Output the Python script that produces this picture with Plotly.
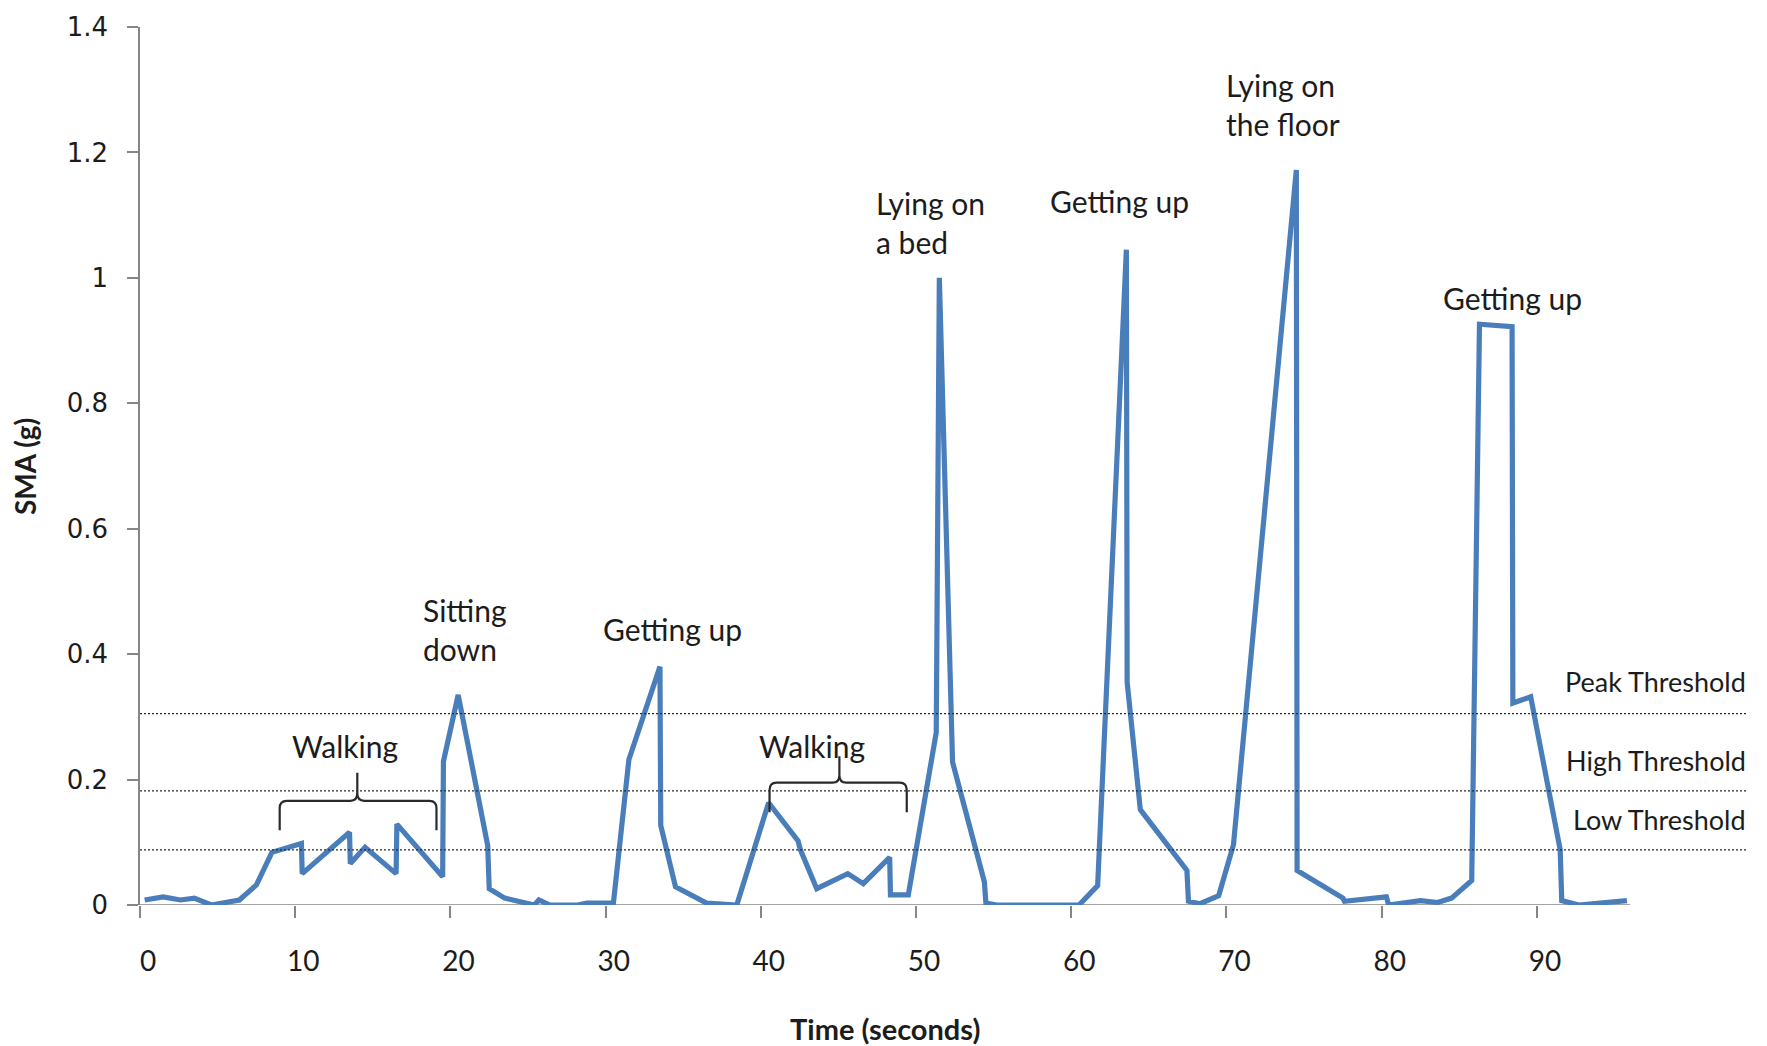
import plotly.graph_objects as go

# SMA signal over time (seconds, g)
time_s = [
    0.3, 1.5, 2.6, 3.5, 4.6, 6.4, 7.5, 8.5, 10.4, 10.45,
    13.5, 13.55, 14.5, 16.5, 16.55, 19.5, 19.55, 20.5, 22.4, 22.5,
    23.5, 25.1, 25.4, 25.7, 26.4, 28.2, 28.8, 30.5, 31.5, 33.5,
    33.55, 34.5, 36.5, 38.45, 40.5, 42.4, 42.55, 43.6, 45.6, 46.6,
    48.3, 48.35, 49.5, 51.3, 51.5, 52.35, 54.4, 54.5, 55.2, 60.5,
    61.7, 63.55, 63.6, 64.45, 67.45, 67.55, 68.3, 69.5, 70.45, 74.5,
    74.55, 77.5, 77.6, 80.3, 80.45, 82.5, 83.6, 84.5, 85.8, 86.3,
    88.4, 88.45, 89.6, 91.5, 91.6, 92.7, 95.8,
]
sma_g = [
    0.008, 0.013, 0.008, 0.011, 0.0, 0.008, 0.032, 0.084, 0.098, 0.05,
    0.116, 0.066, 0.092, 0.05, 0.129, 0.045, 0.229, 0.335, 0.095, 0.026,
    0.011, 0.003, 0.0, 0.008, 0.0, 0.0, 0.003, 0.003, 0.232, 0.38,
    0.127, 0.029, 0.003, 0.0, 0.163, 0.102, 0.088, 0.026, 0.050, 0.034,
    0.076, 0.016, 0.016, 0.275, 1.0, 0.228, 0.037, 0.003, 0.0, 0.0,
    0.031, 1.045, 0.355, 0.152, 0.055, 0.006, 0.002, 0.015, 0.096, 1.172,
    0.055, 0.011, 0.006, 0.013, 0.0, 0.007, 0.004, 0.011, 0.039, 0.926,
    0.922, 0.322, 0.332, 0.088, 0.007, 0.0, 0.007,
]

# detection thresholds (g)
threshold_names = ["Peak Threshold", "High Threshold", "Low Threshold"]
threshold_values = [0.305, 0.182, 0.088]

# axis ticks
x_ticks = [0, 10, 20, 30, 40, 50, 60, 70, 80, 90]
y_ticks = [0, 0.2, 0.4, 0.6, 0.8, 1.0, 1.2, 1.4]
y_tick_text = ["0", "0.2", "0.4", "0.6", "0.8", "1", "1.2", "1.4"]

# activity labels
activity_text = ["Walking", "Sitting<br>down", "Getting up", "Walking",
                 "Lying on<br>a bed", "Getting up", "Lying on<br>the floor", "Getting up"]

# walking braces: left, middle, right (s); bar, end, tip (g)
brace_x = [(9.0, 14.0, 19.1), (40.56, 45.06, 49.4)]
brace_y = [(0.166, 0.119, 0.211), (0.195, 0.148, 0.237)]

X_MAX = 103.6
TEXT_FONT = "Lato, 'Open Sans', sans-serif"
AXIS_GREY = "#868686"
INK = "#1c1c1c"

fig = go.Figure()
fig.add_trace(go.Scatter(
    x=time_s, y=sma_g, mode="lines",
    line=dict(color="#4A7EBB", width=5.2),
    hoverinfo="skip", showlegend=False,
))

shapes = []
# x axis line stops at the end of the recording
shapes.append(dict(type="line", xref="x", yref="y", x0=0, x1=96, y0=0, y1=0,
                   line=dict(color=AXIS_GREY, width=1.6), layer="below"))
# dotted threshold lines
for v in threshold_values:
    shapes.append(dict(type="line", xref="paper", yref="y", x0=0, x1=1, y0=v, y1=v,
                       line=dict(color="#2a2a2a", width=1.3, dash="2px,2px"), layer="above"))


def brace_path(xl, xm, xr, ybar, yend, ytip, dx=0.45, dy=0.012):
    return (f"M {xl},{yend} L {xl},{ybar - dy} Q {xl},{ybar} {xl + dx},{ybar} "
            f"L {xm - dx},{ybar} Q {xm},{ybar} {xm},{ybar + dy} L {xm},{ytip} "
            f"M {xm},{ybar + dy} Q {xm},{ybar} {xm + dx},{ybar} "
            f"L {xr - dx},{ybar} Q {xr},{ybar} {xr},{ybar - dy} L {xr},{yend}")


for (xl, xm, xr), (ybar, yend, ytip) in zip(brace_x, brace_y):
    shapes.append(dict(type="path", xref="x", yref="y",
                       path=brace_path(xl, xm, xr, ybar, yend, ytip),
                       line=dict(color="#2a2a2a", width=2.2)))

annotations = []
# activity annotations: (x, y, anchor, align)
activity_pos = [
    (13.2, 0.253, "center", "center"),
    (18.1, 0.439, "left", "left"),
    (34.28, 0.44, "center", "center"),
    (43.3, 0.253, "center", "center"),
    (47.3, 1.089, "left", "left"),
    (63.1, 1.122, "center", "center"),
    (73.65, 1.277, "center", "left"),
    (88.4, 0.968, "center", "center"),
]
for txt, (x, y, xa, al) in zip(activity_text, activity_pos):
    annotations.append(dict(x=x, y=y, xref="x", yref="y", text=txt, showarrow=False,
                            xanchor=xa, yanchor="middle", align=al,
                            font=dict(family=TEXT_FONT, size=30, color=INK)))

# threshold labels at the right edge
threshold_label_y = [0.356, 0.231, 0.136]
for name, y in zip(threshold_names, threshold_label_y):
    annotations.append(dict(x=1.0, y=y, xref="paper", yref="y", text=name, showarrow=False,
                            xanchor="right", yanchor="middle",
                            font=dict(family=TEXT_FONT, size=27, color=INK)))

W, H = 1767, 1046
ML, MR, MT, MB = 140, 19, 17, 141
pw, ph = W - ML - MR, H - MT - MB

# axis titles, placed in pixels and converted to paper coordinates
title_specs = [
    ("<b>Time (seconds)</b>", 885, 1030, 0, 29),
    ("<b>SMA (g)</b>", 25, 462, -90, 28),
]
for text, px, py, angle, size in title_specs:
    annotations.append(dict(
        x=(px - ML) / pw, y=(H - MB - py) / ph, xref="paper", yref="paper",
        text=text, showarrow=False, textangle=angle,
        xanchor="center", yanchor="middle",
        font=dict(family=TEXT_FONT, size=size, color=INK)))

fig.update_layout(
    width=W, height=H, autosize=False,
    margin=dict(l=ML, r=MR, t=MT, b=MB, pad=0),
    paper_bgcolor="white", plot_bgcolor="white",
    shapes=shapes, annotations=annotations,
    xaxis=dict(
        range=[0, X_MAX], tickmode="array", tickvals=x_ticks,
        ticktext=[str(t) for t in x_ticks],
        showline=False, showgrid=False, zeroline=False,
        ticks="outside", ticklen=12, tickwidth=1.6, tickcolor=AXIS_GREY,
        ticklabelshift=8, ticklabelstandoff=19,
        tickfont=dict(family=TEXT_FONT, size=28, color=INK),
    ),
    yaxis=dict(
        range=[0, 1.4], tickmode="array", tickvals=y_ticks, ticktext=y_tick_text,
        showline=True, linecolor=AXIS_GREY, linewidth=1.6,
        showgrid=False, zeroline=False,
        ticks="outside", ticklen=11, tickwidth=1.6, tickcolor=AXIS_GREY,
        ticklabelstandoff=14,
        tickfont=dict(family="'DejaVu Sans', Verdana, sans-serif", size=26, color=INK),
    ),
)

fig.write_html("out.html")
